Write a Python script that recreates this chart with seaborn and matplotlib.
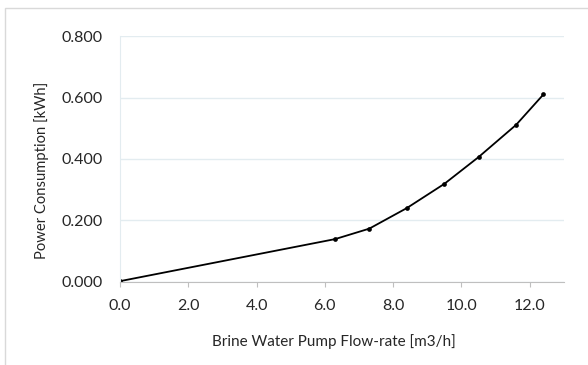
import matplotlib
matplotlib.use("Agg")
import matplotlib.pyplot as plt
from matplotlib.patches import Rectangle
import pandas as pd
import seaborn as sns

# values
flow_rate = [0.0, 6.3, 7.3, 8.4, 9.5, 10.5, 11.6, 12.4]
power = [0.002, 0.139, 0.173, 0.240, 0.319, 0.406, 0.511, 0.610]
x_ticks = [0, 2, 4, 6, 8, 10, 12]
y_ticks = [0.0, 0.2, 0.4, 0.6, 0.8]

df = pd.DataFrame({"flow": flow_rate, "power": power})

sns.set_style("white")
plt.rcParams["font.family"] = ["Lato", "DejaVu Sans"]

fig = plt.figure(figsize=(5.88, 3.65), dpi=100)
ax = fig.add_axes([0.204, 0.228, 0.755, 0.673])

# light frame round the whole chart, like the spreadsheet chart area
fig.patches.append(Rectangle((0.009, -0.01), 1.2, 0.987, transform=fig.transFigure,
                             fill=False, edgecolor="#d9d9d9", linewidth=1.0))

sns.lineplot(data=df, x="flow", y="power", ax=ax, color="black", linewidth=1.3,
             marker="o", markersize=3.4, markeredgewidth=0)

ax.set_xlim(0, 13)
ax.set_ylim(0, 0.8)
ax.set_xticks(x_ticks)
ax.set_yticks(y_ticks)
ax.set_xticklabels(["%.1f" % v for v in x_ticks])
ax.set_yticklabels(["%.3f" % v for v in y_ticks])

ax.grid(axis="y", color="#e3ecf0", linewidth=1.0)
ax.set_axisbelow(True)
for side in ["top", "right"]:
    ax.spines[side].set_visible(False)
ax.spines["left"].set_color("#e3ecf0")
ax.spines["bottom"].set_color("#bfbfbf")

ax.tick_params(axis="x", length=3.6, color="#bfbfbf", labelsize=11.5, pad=9, bottom=True)
ax.tick_params(axis="y", length=0, labelsize=11.5, pad=12.5)

ax.set_xlabel("Brine Water Pump Flow-rate [m3/h]", fontsize=11, labelpad=15)
ax.set_ylabel("Power Consumption [kWh]", fontsize=10.6, labelpad=9)
# labels sit a little off-centre in the original
ax.xaxis.label.set_x(0.481)
ax.yaxis.label.set_y(0.455)

fig.savefig("out.png", dpi=100)
